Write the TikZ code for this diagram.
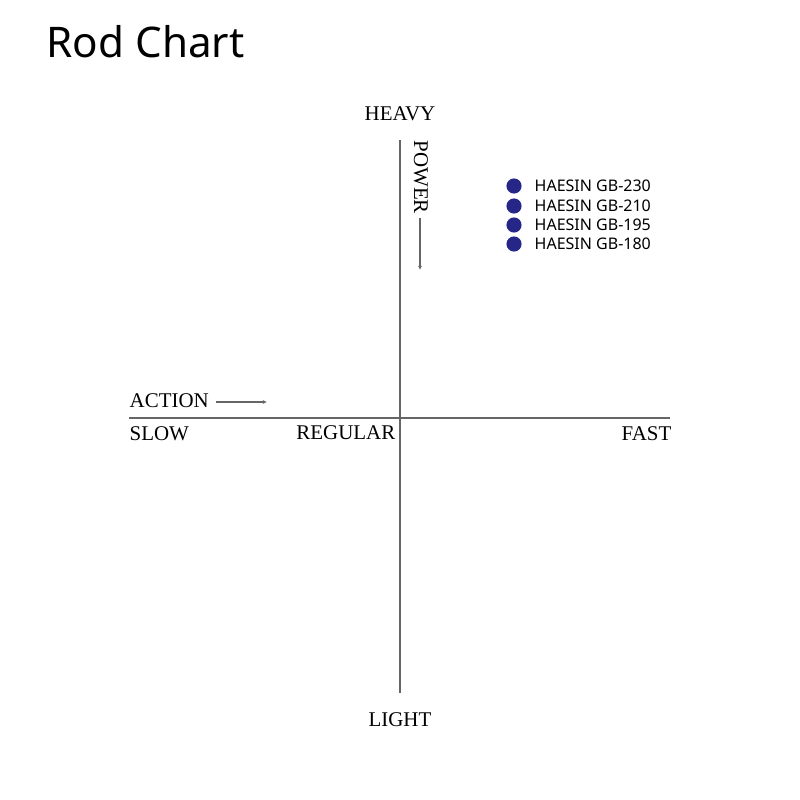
\documentclass[tikz,border=0pt]{standalone}
\usepackage{fontspec}
\usetikzlibrary{arrows.meta}
\setmainfont{Liberation Serif}
\newfontfamily\legfont{Noto Sans}
\begin{document}
\begin{tikzpicture}[x=0.01cm,y=-0.01cm,
  axis/.style={draw=black!60,line width=0.55pt},
  lab/.style={font=\fontsize{5.95pt}{6.5pt}\selectfont,inner sep=0pt},
  arr/.style={draw=black!60,line width=0.3pt,-{Latex[length=1.2pt,width=1.2pt]}},
  dot/.style={circle,fill=blue!45!black!85,inner sep=0pt,minimum size=4.3pt},
  leg/.style={font=\legfont\fontsize{4.55pt}{5pt}\selectfont,inner sep=0pt,anchor=west}]
\useasboundingbox (0,0) rectangle (800,800);
\node[font=\legfont\fontsize{12pt}{14pt}\selectfont,anchor=west,inner sep=0pt] (title) at (46,42) {Rod Chart};
\coordinate (vt) at (400,140); \coordinate (vb) at (400,693);
\coordinate (hl) at (129,418); \coordinate (hr) at (670,418);
\draw[axis] (vt) -- (vb);
\draw[axis] (hl) -- (hr);
\node[lab] (heavy) at (400,114) {HEAVY};
\node[lab] (light) at (400,720) {LIGHT};
\node[lab,anchor=west] (slow) at (129,434) {SLOW};
\node[lab,anchor=east] (regular) at (396,433) {REGULAR};
\node[lab,anchor=east] (fast) at (672,434) {FAST};
\node[lab,anchor=west] (action) at (129,401) {ACTION};
\coordinate (a1) at (216,402); \coordinate (a2) at (267,402);
\draw[arr] (a1) -- (a2);
\node[lab,rotate=-90,anchor=west] (power) at (421,140) {POWER};
\coordinate (p1) at (420,218); \coordinate (p2) at (420,270);
\draw[arr] (p1) -- (p2);
\foreach \y/\t [count=\i] in {186/230,206/210,225/195,244/180}{
  \node[dot] (d\i) at (514,\y) {};
  \node[leg] (l\i) at (534,\y) {HAESIN GB-\t};
}
\end{tikzpicture}
\end{document}
